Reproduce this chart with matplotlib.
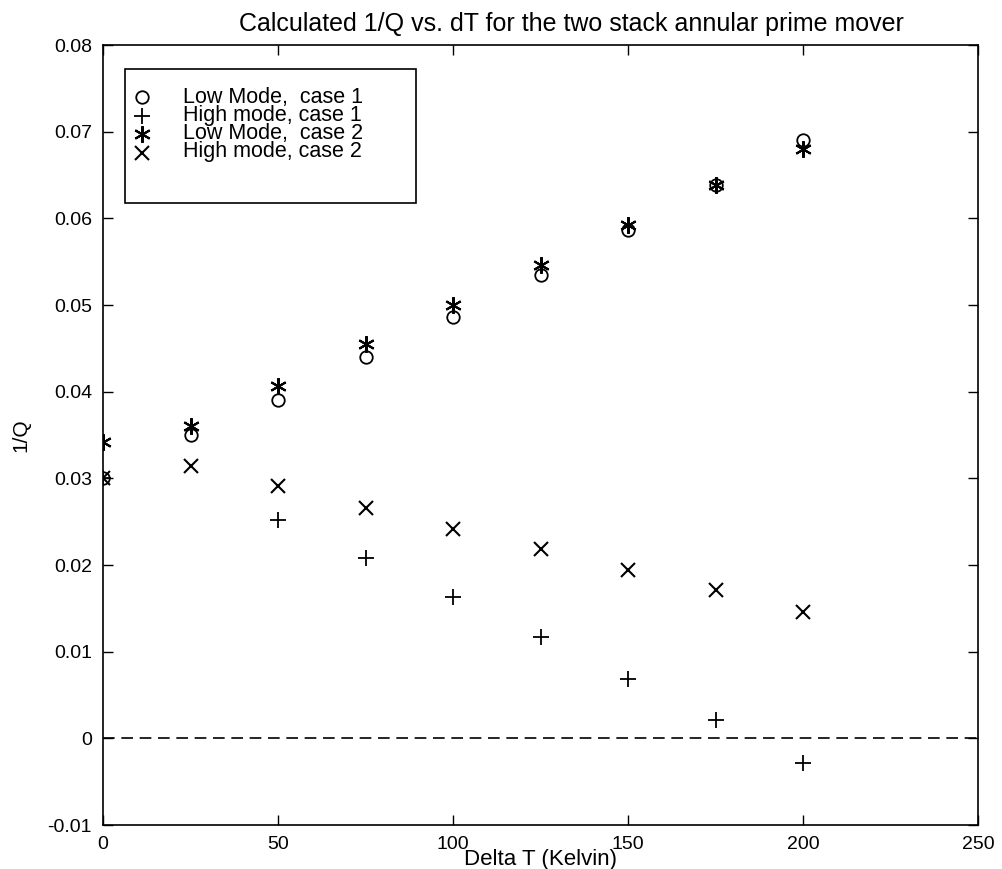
import numpy as np
import matplotlib.pyplot as plt
from matplotlib.patches import Rectangle

plt.rcParams['font.family'] = ['Liberation Sans', 'DejaVu Sans']

# --- Donnees ---
delta_t = [0, 25, 50, 75, 100, 125, 150, 175, 200]
low_case1 = [0.030, 0.035, 0.039, 0.044, 0.0486, 0.0535, 0.0586, 0.0638, 0.069]
high_case1 = [0.030, np.nan, 0.0252, 0.0208, 0.0163, 0.0117, 0.0068, 0.0021, -0.0029]
low_case2 = [0.0342, 0.036, 0.0407, 0.0455, 0.050, 0.0546, 0.0592, 0.0638, 0.068]
high_case2 = [0.030, 0.0314, 0.0291, 0.0266, 0.0242, 0.0219, 0.0194, 0.0171, 0.0146]
noms = ['Low Mode,  case 1', 'High mode, case 1', 'Low Mode,  case 2', 'High mode, case 2']

fig = plt.figure(figsize=(10.03, 8.69), dpi=100)
ax = fig.add_axes([0.1027, 0.0506, 0.8724, 0.8976])

h1, = ax.plot(delta_t, low_case1, 'ko', mfc='none', ms=9, mew=1.3, ls='none')
h2, = ax.plot(delta_t, high_case1, 'k+', ms=11, mew=1.3, ls='none')
h3, = ax.plot(delta_t, low_case2, color='k', marker=(6, 2, 0), ms=12, mew=1.5, ls='none')
h4, = ax.plot(delta_t, high_case2, 'kx', ms=10, mew=1.5, ls='none')

ax.axhline(0, color='k', linestyle=(0, (7, 4)), linewidth=1.2)

ax.set_xlim(0, 250)
ax.set_ylim(-0.01, 0.08)
ax.set_xticks(np.arange(0, 251, 50))
ax.set_yticks(np.arange(-0.01, 0.081, 0.01))
ax.set_yticklabels(['-0.01', '0', '0.01', '0.02', '0.03', '0.04', '0.05', '0.06', '0.07', '0.08'])
ax.tick_params(direction='in', top=True, right=True, length=7, width=1, labelsize=14)
ax.tick_params(axis='y', pad=8)
ax.tick_params(axis='x', pad=8)
for s in ax.spines.values():
    s.set_linewidth(1.2)

ax.set_xlabel('Delta T (Kelvin)', fontsize=16, va='center')
ax.xaxis.set_label_coords(0.5, -0.044)
ax.set_ylabel('1/Q', fontsize=15, labelpad=12)
ax.set_title('Calculated 1/Q vs. dT for the two stack annular prime mover', fontsize=18,
             x=0.535, pad=10)

# legende facon MATLAB : cadre, symboles (legende) et textes serres
cadre = Rectangle((0.025, 0.797), 0.333, 0.172, transform=ax.transAxes,
                  fill=False, edgecolor='k', linewidth=1.2, zorder=5)
ax.add_patch(cadre)
leg = ax.legend([h1, h2, h3, h4], [''] * 4, loc='upper left', bbox_to_anchor=(0.031, 0.946),
                fontsize=8, frameon=False, handlelength=1.2, handleheight=1.0,
                handletextpad=0.0, labelspacing=0.7, borderpad=0.0)
ax.text(0.091, 0.946, '\n'.join(noms), transform=ax.transAxes, fontsize=15.5,
        va='top', ha='left', linespacing=0.81)

plt.savefig('out.png', dpi=100)
